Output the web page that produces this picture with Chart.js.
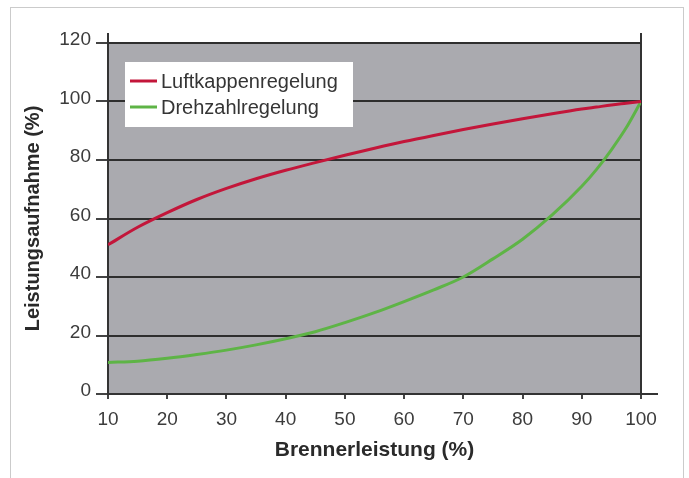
<!DOCTYPE html>
<html>
<head>
<meta charset="utf-8">
<script src="https://cdn.jsdelivr.net/npm/chart.js@4/dist/chart.umd.min.js"></script>
<style>
  html, body { margin: 0; padding: 0; background: #fff; }
  #frame {
    position: absolute; left: 10px; top: 7px; width: 672px; height: 480px;
    border: 1px solid #cbcbcb; border-bottom: none;
  }
  #chart { position: absolute; left: 0; top: 0; }
</style>
</head>
<body>
<div id="frame"></div>
<canvas id="chart" width="689" height="478"></canvas>
<script>
// Brennerleistung (%) auf der x-Achse
const brennerleistung = [10, 15, 20, 25, 30, 35, 40, 45, 50, 55, 60, 65, 70, 75, 80, 85, 90, 92.5, 95, 97.5, 100];
// Leistungsaufnahme (%) je Regelungsart
const luftkappenregelung = [51, 57, 62, 66.5, 70.3, 73.6, 76.5, 79.1, 81.6, 84, 86.3, 88.4, 90.4, 92.3, 94.1, 95.8, 97.4, 98.1, 98.8, 99.4, 100];
const drehzahlregelung = [10.8, 11.2, 12.2, 13.5, 15, 16.8, 18.9, 21.3, 24.4, 27.8, 31.6, 35.6, 40, 46.2, 52.9, 61.2, 71, 76.8, 83.5, 91, 100];
const seriesLabels = ['Luftkappenregelung', 'Drehzahlregelung'];

const toPoints = (ys) => brennerleistung.map((x, i) => ({ x: x, y: ys[i] }));

Chart.defaults.font.family = '"Liberation Sans", Arial, sans-serif';
Chart.defaults.color = '#3c3c3c';

// grauer Hintergrund der Zeichenfläche
const plotBackground = {
  id: 'plotBackground',
  beforeDraw(chart) {
    const { ctx, chartArea: a } = chart;
    ctx.save();
    ctx.fillStyle = '#aaaaaf';
    ctx.fillRect(a.left, a.top, a.right - a.left, a.bottom - a.top);
    ctx.restore();
  },
  beforeDatasetsDraw(chart) {
    // Achsen etwas über die Fläche hinaus verlängern
    const { ctx, chartArea: a } = chart;
    ctx.save();
    ctx.strokeStyle = '#333';
    ctx.lineWidth = 2;
    ctx.beginPath();
    ctx.moveTo(a.left, a.top - 10); ctx.lineTo(a.left, a.top);
    ctx.moveTo(a.right, a.top - 10); ctx.lineTo(a.right, a.top);
    ctx.moveTo(a.right, a.bottom); ctx.lineTo(a.right + 17, a.bottom);
    ctx.stroke();
    ctx.restore();
  }
};

// Legende als weißer Kasten oben links in der Fläche
const boxLegend = {
  id: 'boxLegend',
  afterDatasetsDraw(chart) {
    const { ctx, chartArea: a } = chart;
    const x = a.left + 17, y = a.top + 19;
    ctx.save();
    ctx.fillStyle = '#ffffff';
    ctx.fillRect(x, y, 228, 65);
    ctx.font = '20px "Liberation Sans", Arial, sans-serif';
    ctx.textBaseline = 'middle';
    chart.data.datasets.forEach((ds, i) => {
      const ly = y + 19 + i * 26;
      ctx.strokeStyle = ds.borderColor;
      ctx.lineWidth = 3;
      ctx.beginPath();
      ctx.moveTo(x + 5, ly);
      ctx.lineTo(x + 32, ly);
      ctx.stroke();
      ctx.fillStyle = '#353535';
      ctx.fillText(ds.label, x + 36, ly + 1);
    });
    ctx.restore();
  }
};

new Chart(document.getElementById('chart'), {
  type: 'line',
  data: {
    datasets: [{
      label: seriesLabels[0],
      data: toPoints(luftkappenregelung),
      borderColor: '#c3163a',
      borderWidth: 3,
      pointRadius: 0,
      cubicInterpolationMode: 'monotone'
    }, {
      label: seriesLabels[1],
      data: toPoints(drehzahlregelung),
      borderColor: '#5eb446',
      borderWidth: 3,
      pointRadius: 0,
      cubicInterpolationMode: 'monotone'
    }]
  },
  options: {
    responsive: false,
    animation: false,
    devicePixelRatio: 1,
    layout: { padding: { top: 43, right: 48, left: 0, bottom: 0 } },
    plugins: {
      legend: { display: false },
      tooltip: { enabled: false }
    },
    scales: {
      x: {
        type: 'linear',
        min: 10,
        max: 100,
        afterFit(scale) { scale.height = 84; },
        ticks: { stepSize: 10, padding: 9, font: { size: 19 } },
        grid: {
          lineWidth: 2,
          tickLength: 5,
          color: (c) => (c.tick && c.tick.value === 100 ? '#333' : 'rgba(0,0,0,0)'),
          tickColor: '#444'
        },
        border: { color: '#333', width: 2 },
        title: {
          display: true,
          text: 'Brennerleistung (%)',
          color: '#2a2a2a',
          font: { size: 21, weight: 'bold' },
          padding: { bottom: 15, top: 0 }
        }
      },
      y: {
        min: 0,
        max: 120,
        afterFit(scale) { scale.width = 108; },
        ticks: { stepSize: 20, padding: 5, labelOffset: -3, font: { size: 19 } },
        grid: { color: '#2e2e2e', lineWidth: 2, tickLength: 12, tickColor: '#444' },
        border: { color: '#333', width: 2 },
        title: {
          display: true,
          text: 'Leistungsaufnahme (%)',
          color: '#2a2a2a',
          font: { size: 20, weight: 'bold' },
          padding: { top: 21, bottom: 0 }
        }
      }
    }
  },
  plugins: [plotBackground, boxLegend]
});
</script>
</body>
</html>
